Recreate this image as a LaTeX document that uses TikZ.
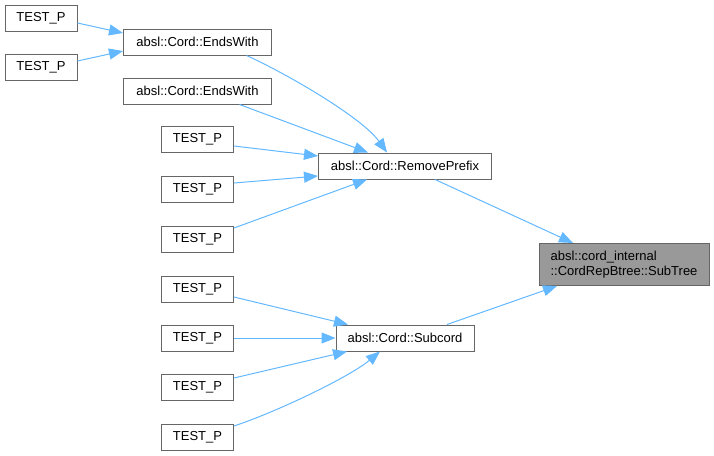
\documentclass[tikz,border=0pt]{standalone}
\usepackage{fontspec}
\setmainfont{Liberation Sans}
\usetikzlibrary{arrows.meta}
\definecolor{edgeblue}{HTML}{63B8FF}
\definecolor{boxgray}{HTML}{666666}
\definecolor{subgray}{HTML}{999999}
\tikzset{fn/.style={draw=boxgray,line width=1pt,fill=white,inner sep=0pt,minimum height=26pt,font=\fontsize{13}{15.5}\selectfont},
test/.style={fn,minimum width=72pt},
call/.style={->,draw=edgeblue,line width=1pt}}
\begin{document}
\begin{tikzpicture}[x=1pt,y=-1pt,>={Triangle[length=14pt,width=11pt]}]
\useasboundingbox (0,0) rectangle (714,455);
\node[test] (t1) at (41,18) {TEST\_P};
\node[test] (t2) at (41,67) {TEST\_P};
\node[fn,minimum width=148pt] (ew1) at (197.5,42) {absl::Cord::EndsWith};
\node[fn,minimum width=148pt] (ew2) at (197.5,91) {absl::Cord::EndsWith};
\node[test] (t3) at (197.5,139) {TEST\_P};
\node[test] (t4) at (197.5,189) {TEST\_P};
\node[test] (t5) at (197.5,239) {TEST\_P};
\node[fn,minimum width=173pt] (rp) at (405,166) {absl::Cord::RemovePrefix};
\node[fn,fill=subgray,minimum width=170pt,minimum height=42pt,align=left] (sub) at (624,264.5) {absl::cord\_internal\\::CordRepBtree::SubTree};
\node[test] (t6) at (197.5,289) {TEST\_P};
\node[test] (t7) at (197.5,338) {TEST\_P};
\node[test] (t8) at (197.5,387) {TEST\_P};
\node[test] (t9) at (197.5,437) {TEST\_P};
\node[fn,minimum width=138pt] (sc) at (405,338) {absl::Cord::Subcord};
\draw[call] ([yshift=-5pt]t1.east) -- ([yshift=9pt]ew1.west);
\draw[call] ([yshift=6pt]t2.east) -- ([yshift=-9pt]ew1.west);
\draw[call] ([xshift=49pt]ew1.south) .. controls +(40,18) and +(-25,-35) .. ([xshift=-18pt]rp.north);
\draw[call] ([xshift=42pt]ew2.south) -- ([xshift=-37pt]rp.north);
\draw[call] ([yshift=-7pt]t3.east) -- ([yshift=10pt]rp.west);
\draw[call] ([yshift=6pt]t4.east) -- ([yshift=-10pt]rp.west);
\draw[call] ([yshift=11pt]t5.east) -- ([xshift=-38pt]rp.south);
\draw[call] ([xshift=30pt]rp.south) -- ([xshift=-51pt]sub.north);
\draw[call] ([xshift=42pt]sc.north) -- ([xshift=-67pt]sub.south);
\draw[call] ([yshift=-8pt]t6.east) -- ([xshift=-57pt]sc.north);
\draw[call] (t7.east) -- (sc.west);
\draw[call] ([yshift=9pt]t8.east) -- ([xshift=-58pt]sc.south);
\draw[call] ([yshift=11pt]t9.east) .. controls +(45,-15) and +(-30,25) .. ([xshift=-25pt]sc.south);
\end{tikzpicture}
\end{document}
